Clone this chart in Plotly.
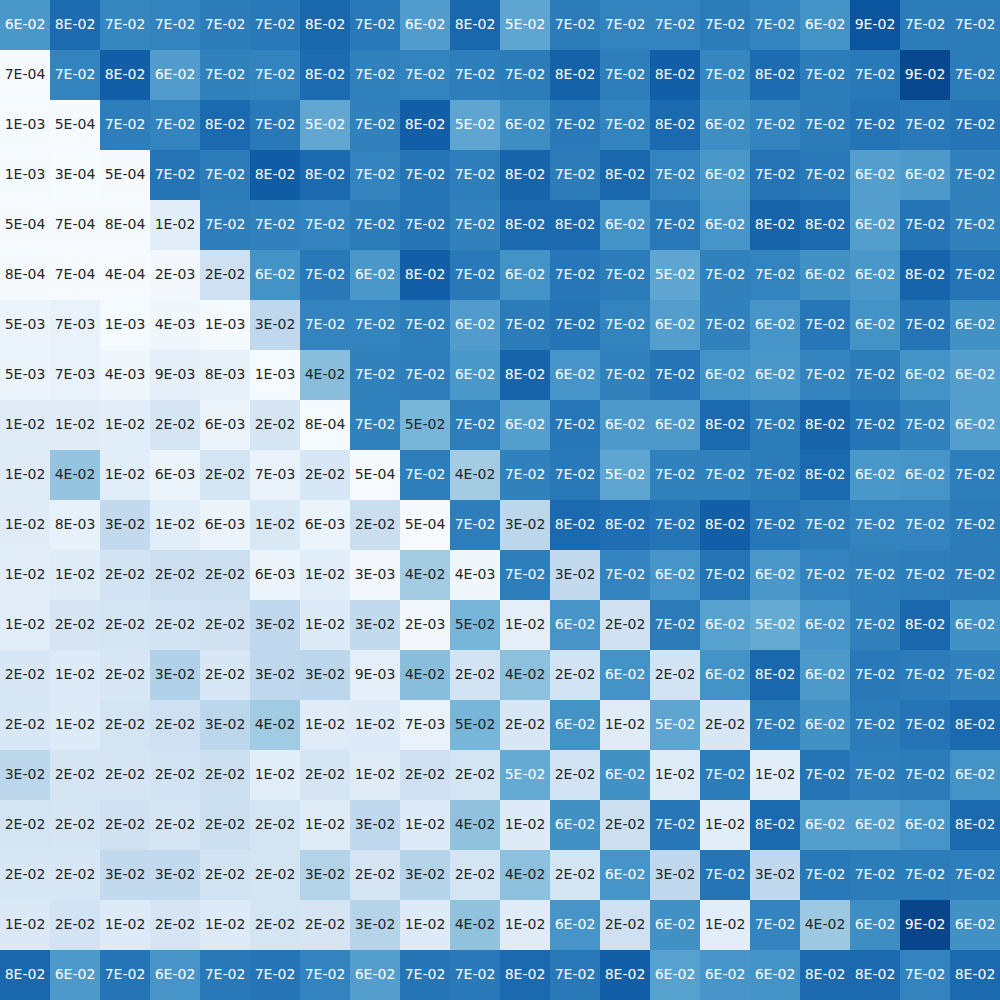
import plotly.graph_objects as go
import plotly.colors as pc

rows = [f"r{i}" for i in range(20)]
cols = [f"c{j}" for j in range(20)]

z = [
    [0.060, 0.077, 0.067, 0.068, 0.071, 0.072, 0.079, 0.072, 0.058, 0.079, 0.054, 0.071, 0.068, 0.068, 0.071, 0.068, 0.062, 0.086, 0.071, 0.071],
    [0.0007, 0.068, 0.082, 0.058, 0.069, 0.068, 0.077, 0.069, 0.068, 0.070, 0.071, 0.081, 0.070, 0.082, 0.067, 0.077, 0.071, 0.072, 0.091, 0.071],
    [0.0010, 0.0005, 0.070, 0.068, 0.078, 0.072, 0.053, 0.069, 0.082, 0.054, 0.064, 0.072, 0.068, 0.078, 0.064, 0.068, 0.071, 0.074, 0.072, 0.074],
    [0.0011, 0.0003, 0.0005, 0.074, 0.071, 0.083, 0.078, 0.068, 0.074, 0.070, 0.080, 0.071, 0.079, 0.068, 0.060, 0.074, 0.072, 0.057, 0.059, 0.069],
    [0.0005, 0.0007, 0.0008, 0.011, 0.070, 0.069, 0.068, 0.071, 0.074, 0.069, 0.078, 0.078, 0.062, 0.072, 0.061, 0.080, 0.078, 0.057, 0.074, 0.069],
    [0.0008, 0.0007, 0.0004, 0.0020, 0.021, 0.062, 0.072, 0.060, 0.082, 0.072, 0.062, 0.073, 0.071, 0.054, 0.069, 0.068, 0.063, 0.060, 0.080, 0.074],
    [0.0050, 0.0070, 0.0010, 0.0040, 0.0010, 0.027, 0.068, 0.068, 0.070, 0.058, 0.071, 0.074, 0.068, 0.057, 0.069, 0.061, 0.073, 0.062, 0.074, 0.063],
    [0.0050, 0.0070, 0.0040, 0.0090, 0.0080, 0.0010, 0.043, 0.069, 0.070, 0.060, 0.080, 0.061, 0.069, 0.074, 0.062, 0.060, 0.068, 0.071, 0.062, 0.057],
    [0.012, 0.012, 0.011, 0.017, 0.006, 0.017, 0.0008, 0.069, 0.047, 0.070, 0.057, 0.073, 0.059, 0.059, 0.078, 0.071, 0.080, 0.074, 0.069, 0.057],
    [0.012, 0.040, 0.011, 0.006, 0.018, 0.007, 0.016, 0.0005, 0.070, 0.036, 0.069, 0.072, 0.054, 0.069, 0.069, 0.071, 0.078, 0.060, 0.061, 0.070],
    [0.012, 0.008, 0.026, 0.011, 0.006, 0.015, 0.006, 0.023, 0.0005, 0.070, 0.028, 0.078, 0.076, 0.074, 0.082, 0.073, 0.071, 0.068, 0.068, 0.071],
    [0.011, 0.012, 0.019, 0.022, 0.022, 0.006, 0.011, 0.003, 0.036, 0.004, 0.070, 0.026, 0.068, 0.061, 0.074, 0.060, 0.068, 0.069, 0.070, 0.071],
    [0.011, 0.017, 0.018, 0.019, 0.020, 0.027, 0.013, 0.026, 0.002, 0.047, 0.010, 0.061, 0.020, 0.071, 0.056, 0.052, 0.061, 0.069, 0.079, 0.063],
    [0.016, 0.013, 0.016, 0.032, 0.016, 0.027, 0.028, 0.009, 0.043, 0.019, 0.042, 0.019, 0.062, 0.019, 0.062, 0.079, 0.059, 0.072, 0.071, 0.069],
    [0.016, 0.013, 0.018, 0.021, 0.028, 0.037, 0.012, 0.013, 0.007, 0.047, 0.016, 0.062, 0.012, 0.054, 0.016, 0.071, 0.063, 0.071, 0.074, 0.078],
    [0.028, 0.017, 0.017, 0.019, 0.022, 0.011, 0.017, 0.012, 0.021, 0.018, 0.052, 0.019, 0.063, 0.012, 0.071, 0.011, 0.074, 0.070, 0.071, 0.062],
    [0.018, 0.017, 0.020, 0.017, 0.022, 0.018, 0.012, 0.027, 0.013, 0.041, 0.013, 0.063, 0.022, 0.073, 0.011, 0.078, 0.057, 0.057, 0.061, 0.078],
    [0.016, 0.016, 0.026, 0.026, 0.019, 0.018, 0.031, 0.017, 0.030, 0.018, 0.042, 0.018, 0.061, 0.027, 0.074, 0.027, 0.072, 0.071, 0.071, 0.070],
    [0.014, 0.019, 0.013, 0.017, 0.013, 0.018, 0.017, 0.030, 0.013, 0.041, 0.012, 0.061, 0.021, 0.063, 0.011, 0.068, 0.038, 0.064, 0.092, 0.063],
    [0.079, 0.059, 0.074, 0.061, 0.072, 0.074, 0.068, 0.057, 0.074, 0.072, 0.078, 0.072, 0.082, 0.056, 0.061, 0.062, 0.078, 0.078, 0.068, 0.078],
]

ZMIN, ZMAX = 0.0, 0.1
SCALE = pc.sequential.Blues


def luminance(rgb_str):
    r, g, b = pc.unlabel_rgb(rgb_str)
    def lin(c):
        c = c / 255.0
        return c / 12.92 if c <= 0.03928 else ((c + 0.055) / 1.055) ** 2.4
    return 0.2126 * lin(r) + 0.7152 * lin(g) + 0.0722 * lin(b)


def text_color(v):
    t = min(max((v - ZMIN) / (ZMAX - ZMIN), 0), 1)
    col = pc.sample_colorscale(SCALE, [t])[0]
    return "#262626" if luminance(col) > 0.408 else "#ffffff"


xs, ys, texts, colors = [], [], [], []
for i, row in enumerate(z):
    for j, v in enumerate(row):
        xs.append(cols[j])
        ys.append(rows[i])
        texts.append(f"{v:.0E}")
        colors.append(text_color(v))

fig = go.Figure()
fig.add_trace(go.Heatmap(
    z=z, x=cols, y=rows, colorscale=SCALE, zmin=ZMIN, zmax=ZMAX,
    showscale=False, hoverinfo="skip",
))
fig.add_trace(go.Scatter(
    x=xs, y=ys, text=texts, mode="text", textposition="middle center",
    textfont=dict(family="DejaVu Sans", size=14, color=colors, shadow="none"),
    hoverinfo="skip", showlegend=False,
))
fig.update_layout(
    width=1000,
    height=1000,
    margin=dict(l=0, r=0, t=0, b=0),
    paper_bgcolor="white",
    plot_bgcolor="white",
    showlegend=False,
    xaxis=dict(visible=False, showgrid=False, zeroline=False,
               range=[-0.5, len(cols) - 0.5]),
    yaxis=dict(visible=False, showgrid=False, zeroline=False,
               range=[len(rows) - 0.5, -0.5]),
)
fig.write_html("out.html", config={"displayModeBar": False},
               post_script="document.body.style.margin='0';")
